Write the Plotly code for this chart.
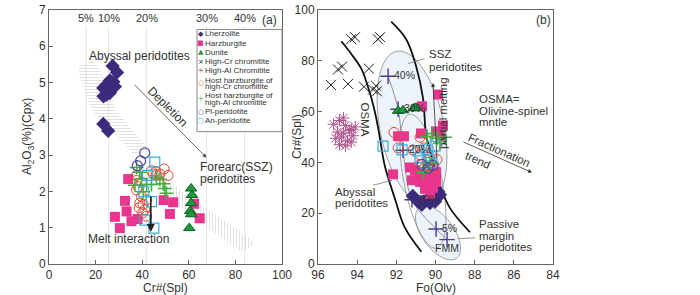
import math
import plotly.graph_objects as go

# ---------------- Panel (a): Cr#(Spl) vs Al2O3 (Cpx) ----------------
lhz_cr = [27.3, 29.2, 26.1, 27.6, 24.7, 23.3, 26.1, 24.7, 26.1, 23.4, 28.3, 23.3, 25.4]
lhz_al = [5.46, 5.28, 5.06, 5.02, 4.93, 4.85, 4.85, 4.67, 4.71, 4.62, 4.89, 3.86, 3.67]
hzb_cr = [28.3, 30.4, 32.6, 34.0, 33.3, 35.4, 38.0, 49.2, 53.3, 51.9, 64.7, 62.3]
hzb_al = [1.30, 0.99, 1.74, 2.34, 1.45, 1.18, 1.24, 1.76, 1.70, 1.38, 1.26, 1.66]
dun_cr = [61.0, 61.4, 61.0, 60.6, 61.0, 60.2]
dun_al = [2.08, 1.90, 1.68, 1.46, 1.37, 0.99]
pl_cr = [41.1, 39.3, 37.9]
pl_al = [3.06, 2.84, 2.71]
an_cr = [45.4, 42.3, 40.7, 44.0, 41.1, 45.0]
an_al = [2.81, 2.44, 1.99, 1.72, 1.21, 0.99]
hcr_cr = [45.9, 47.6, 49.4, 51.1, 44.0, 46.1, 44.7, 37.6, 37.6, 38.3, 39.7, 39.0, 40.4,
          38.7, 41.1, 40.2, 41.9, 39.7, 41.9, 37.6]
hcr_al = [2.55, 2.48, 2.62, 2.44, 2.57, 2.44, 2.48, 2.30, 2.04, 2.13, 2.26, 1.68, 1.64,
          1.55, 1.50, 1.41, 1.32, 1.86, 1.77, 2.44]
hal_cr = [37.6, 39.0, 36.9, 41.9, 44.0, 40.4, 47.6, 49.0, 49.7, 46.1, 39.7, 50.4]
hal_al = [2.66, 2.53, 2.17, 2.19, 2.19, 1.99, 2.33, 2.21, 2.08, 2.39, 2.35, 1.95]

melt_pct_labels = ["5%", "10%", "20%", "30%", "40%"]
melt_pct_cr = [16.0, 25.6, 41.9, 67.6, 84.0]

abyssal_field_cr = [12.5, 19.5, 24.0, 29.0, 44.0, 36.0, 28.0, 18.5, 13.5, 12.5]
abyssal_field_al = [5.45, 5.60, 5.10, 4.20, 3.10, 3.05, 3.60, 4.20, 5.10, 5.45]
forearc_field_cr = [51.1, 86.9, 87.6, 82.6, 56.1, 51.1, 51.1]
forearc_field_al = [2.28, 0.66, 0.52, 0.34, 1.55, 1.90, 2.28]

# ---------------- Panel (b): Fo(Olv) vs Cr#(Spl) ----------------
b_hcrc_fo = [94.31, 94.11, 92.94, 92.83, 95.34, 94.98, 94.77, 94.47, 93.40, 93.65, 93.19, 92.99, 93.04]
b_hcrc_cr = [88.5, 89.3, 88.5, 89.3, 70.5, 76.6, 77.7, 70.9, 76.9, 69.8, 68.7, 68.0, 70.2]
b_halc_fo = [95.2, 94.9, 94.6, 94.3, 95.0, 94.7, 94.4, 94.1, 95.1, 94.8, 94.5, 94.2, 94.9, 94.6, 94.3, 94.7]
b_halc_cr = [55.0, 56.5, 54.5, 53.0, 52.0, 51.5, 52.5, 54.0, 49.5, 50.0, 48.5, 50.5, 47.0, 46.5, 48.0, 57.5]
b_dun_fo = [91.91, 91.66, 91.10, 91.00]
b_dun_cr = [60.3, 60.5, 61.3, 61.5]
b_hzb_fo = [89.87, 90.69, 89.62, 89.72, 91.91, 91.61, 90.74, 89.97, 92.17, 91.30, 91.05, 90.79,
            90.38, 89.97, 91.20, 90.79, 90.38, 89.97, 90.54, 90.13, 90.28]
b_hzb_cr = [66.7, 62.1, 54.5, 50.6, 50.3, 50.3, 51.4, 52.2, 35.3, 38.0, 36.9, 35.3,
            35.3, 36.1, 33.0, 32.3, 32.3, 32.3, 29.6, 30.0, 27.7]
b_lhz_fo = [91.16, 90.62, 90.28, 89.94, 90.11, 89.86, 90.45, 90.70, 90.89, 90.02, 89.77]
b_lhz_cr = [26.8, 24.6, 24.0, 25.9, 27.8, 28.4, 25.3, 23.3, 24.6, 24.6, 27.3]
b_hcr_fo = [92.12, 91.91, 91.15, 90.79, 90.79, 90.43, 90.28, 90.64, 90.28, 90.79, 89.92, 90.13, 90.79, 90.59]
b_hcr_cr = [51.8, 45.7, 44.9, 43.0, 39.2, 40.7, 41.8, 37.2, 38.0, 38.0, 41.1, 37.2, 49.9, 45.7]
b_hal_fo = [90.18, 89.92, 89.51, 89.77, 90.43, 90.54, 90.28, 90.64]
b_hal_cr = [51.4, 49.5, 49.9, 47.6, 50.2, 38.0, 39.9, 36.1]
b_an_fo = [92.68, 91.71, 90.89, 90.43, 90.79, 90.23, 90.38, 90.02]
b_an_cr = [46.4, 44.9, 44.5, 44.9, 41.8, 39.9, 42.6, 46.4]
b_pl_fo = [90.69, 90.38, 90.13]
b_pl_cr = [39.2, 37.6, 38.8]

melt_fo = [89.41, 89.97, 91.20, 91.66, 91.91, 92.42]
melt_cr = [9.6, 13.8, 25.3, 44.8, 60.9, 73.9]
melt_labels = ["FMM", "5%", "10%", "20%", "30%", "40%"]

osma_left_fo = [94.81, 94.31, 93.79, 93.45, 93.19, 92.99, 92.85, 92.59, 92.08, 91.57, 90.72]
osma_left_cr = [87.7, 82.8, 76.9, 69.8, 62.9, 56.0, 50.1, 38.7, 25.9, 14.4, 4.8]
osma_right_fo = [92.26, 91.49, 90.98, 90.64, 90.47, 90.28, 90.11, 89.77, 89.26, 88.24]
osma_right_cr = [95.4, 88.4, 77.6, 65.4, 50.1, 45.3, 39.9, 31.0, 22.0, 12.5]

# ---------------- styling ----------------
FONT = "Liberation Sans, Arial, sans-serif"
TXT = "#333333"
C_LHZ = "#3d2a7d"
C_HZB = "#e8368f"
C_DUN = "#1f9a3c"
C_DUN_EDGE = "#0b5b22"
C_HCRC = "#222222"
C_HALC = "#b0568f"
C_HCR = "#e9452f"
C_HAL = "#3fae3f"
C_PL = "#5346a6"
C_AN = "#3aaee0"
C_MELT = "#4b3a8c"

W, H = 700, 295
ML, MR, MT, MB = 49, 147, 3, 31
PW = W - ML - MR
PH = H - MT - MB


def px_x(px):
    return (px - ML) / PW


def px_y(py):
    return (H - MB - py) / PH


# panel b pixel -> data (only for drawing the field outlines)
def b_fo(px):
    return 96 - (px - 318) * 12 / 235


def b_cr(py):
    return (264 - py) * 100 / 261


def ellipse_path(cx, cy, a, b, phi_deg, n=72):
    phi = math.radians(phi_deg)
    ux, uy = math.sin(phi), math.cos(phi)
    vx, vy = math.cos(phi), -math.sin(phi)
    pts = []
    for i in range(n):
        t = 2 * math.pi * i / n
        px = cx + a * math.cos(t) * ux + b * math.sin(t) * vx
        py = cy + a * math.cos(t) * uy + b * math.sin(t) * vy
        pts.append("%.4f,%.4f" % (b_fo(px), b_cr(py)))
    return "M " + " L ".join(pts) + " Z"


fig = go.Figure()

# ---- panel (a) fields ----
fig.add_trace(go.Scatter(
    x=abyssal_field_cr, y=abyssal_field_al, mode="lines", fill="toself",
    line=dict(width=0, color="rgba(0,0,0,0)"), fillcolor="rgba(0,0,0,0)",
    fillpattern=dict(shape="-", fgcolor="#c4c4c4", bgcolor="rgba(255,255,255,0)", size=3, solidity=0.35),
    hoverinfo="skip", showlegend=False, xaxis="x", yaxis="y"))
fig.add_trace(go.Scatter(
    x=forearc_field_cr, y=forearc_field_al, mode="lines", fill="toself",
    line=dict(width=0, color="rgba(0,0,0,0)"), fillcolor="rgba(0,0,0,0)",
    fillpattern=dict(shape="|", fgcolor="#c4c4c4", bgcolor="rgba(255,255,255,0)", size=3, solidity=0.35),
    hoverinfo="skip", showlegend=False, xaxis="x", yaxis="y"))


def add_pts(x, y, name, marker, xa, ya):
    fig.add_trace(go.Scatter(x=x, y=y, mode="markers", name=name, marker=marker,
                             showlegend=False, xaxis=xa, yaxis=ya))


M_LHZ = dict(symbol="diamond", size=11, color=C_LHZ, line=dict(width=0))
M_HZB = dict(symbol="square", size=10, color=C_HZB, line=dict(width=0))
M_DUN = dict(symbol="triangle-up", size=10, color=C_DUN, line=dict(width=1, color=C_DUN_EDGE))
M_HCRC = dict(symbol="x-thin-open", size=10, color=C_HCRC, line=dict(width=1, color=C_HCRC))
M_HALC = dict(symbol="asterisk-open", size=10, color=C_HALC, line=dict(width=1, color=C_HALC))
M_HCR = dict(symbol="circle-open", size=10, color=C_HCR, line=dict(width=1, color=C_HCR))
M_HAL = dict(symbol="cross-thin-open", size=10, color=C_HAL, line=dict(width=1.5, color=C_HAL))
M_PL = dict(symbol="circle-open", size=10, color=C_PL, line=dict(width=1.2, color=C_PL))
M_AN = dict(symbol="square-open", size=10, color=C_AN, line=dict(width=1.2, color=C_AN))

add_pts(lhz_cr, lhz_al, "Lherzolite", M_LHZ, "x", "y")
add_pts(hzb_cr, hzb_al, "Harzburgite", M_HZB, "x", "y")
add_pts(hcr_cr, hcr_al, "Host harzburgite of high-Cr chromitite", M_HCR, "x", "y")
add_pts(hal_cr, hal_al, "Host harzburgite of high-Al chromitite", M_HAL, "x", "y")
add_pts(pl_cr, pl_al, "Pl-peridotite", M_PL, "x", "y")
add_pts(an_cr, an_al, "An-peridotite", M_AN, "x", "y")
add_pts(dun_cr, dun_al, "Dunite", M_DUN, "x", "y")

# ---- panel (b) reference curves ----
for fx, cy in ((osma_left_fo, osma_left_cr), (osma_right_fo, osma_right_cr)):
    fig.add_trace(go.Scatter(x=fx, y=cy, mode="lines", line=dict(color="#111", width=1.8, shape="spline"),
                             hoverinfo="skip", showlegend=False, xaxis="x2", yaxis="y2"))
fig.add_trace(go.Scatter(x=melt_fo, y=melt_cr, mode="lines+markers",
                         line=dict(color="#777", width=0.8, shape="spline"),
                         marker=dict(symbol="cross-thin-open", size=11, color=C_MELT,
                                     line=dict(width=1.4, color=C_MELT)),
                         showlegend=False, xaxis="x2", yaxis="y2", name="melting trend"))

add_pts(b_hcrc_fo, b_hcrc_cr, "High-Cr chromitite", M_HCRC, "x2", "y2")
add_pts(b_halc_fo, b_halc_cr, "High-Al Chromitite", M_HALC, "x2", "y2")
add_pts(b_lhz_fo, b_lhz_cr, "Lherzolite", M_LHZ, "x2", "y2")
add_pts(b_hzb_fo, b_hzb_cr, "Harzburgite", M_HZB, "x2", "y2")
add_pts(b_dun_fo, b_dun_cr, "Dunite", M_DUN, "x2", "y2")
add_pts(b_hcr_fo, b_hcr_cr, "Host harzburgite of high-Cr chromitite", M_HCR, "x2", "y2")
add_pts(b_an_fo, b_an_cr, "An-peridotite", M_AN, "x2", "y2")
add_pts(b_hal_fo, b_hal_cr, "Host harzburgite of high-Al chromitite", M_HAL, "x2", "y2")
add_pts(b_pl_fo, b_pl_cr, "Pl-peridotite", M_PL, "x2", "y2")

# ---- shapes ----
shapes = []
for c in melt_pct_cr:
    shapes.append(dict(type="line", xref="x", yref="y", x0=c, x1=c, y0=0, y1=6.55,
                       line=dict(color="#e6e6e6", width=1), layer="below"))
shapes.append(dict(type="path", xref="x2", yref="y2", path=ellipse_path(412, 124, 80, 32, 11),
                   fillcolor="#edf3fa", line=dict(color="#888", width=0.8), layer="below"))
shapes.append(dict(type="path", xref="x2", yref="y2", path=ellipse_path(438, 232, 32, 16, 35),
                   fillcolor="#edf3fa", line=dict(color="#888", width=0.8), layer="below"))
shapes.append(dict(type="path", xref="x2", yref="y2", path=ellipse_path(423, 179, 70, 19, 11),
                   fillcolor="rgba(0,0,0,0)", line=dict(color="#888", width=0.8), layer="below"))
# leader lines
for (x0, y0, x1, y1) in ((91.40, 78.9, 90.58, 80.8), (93.19, 31.0, 92.22, 32.95), (88.85, 10.0, 87.98, 10.3)):
    shapes.append(dict(type="line", xref="x2", yref="y2", x0=x0, y0=y0, x1=x1, y1=y1,
                       line=dict(color="#777", width=0.8)))
# legend box
shapes.append(dict(type="rect", xref="paper", yref="paper", x0=px_x(197), x1=px_x(282),
                   y0=px_y(128), y1=px_y(23), fillcolor="white", line=dict(color="#888", width=1), layer="above"))

ann = []


def txt(x, y, s, xref, yref, size, angle=0, xanchor="center", color=TXT, yshift=0, family=FONT):
    ann.append(dict(x=x, y=y, xref=xref, yref=yref, text=s, showarrow=False, textangle=angle,
                    xanchor=xanchor, yanchor="middle", yshift=yshift,
                    font=dict(family=family, size=size, color=color)))


def arrow(x, y, ax, ay, xref, yref, width, color):
    ann.append(dict(x=x, y=y, ax=ax, ay=ay, xref=xref, yref=yref, axref=xref, ayref=yref,
                    text="", showarrow=True, arrowhead=2, arrowsize=1, arrowwidth=width, arrowcolor=color))


# panel (a) texts
txt(39, 5.74, "Abyssal peridotites", "x", "y", 12)
txt(51, 4.32, "Depletion", "x", "y", 12, angle=45)
txt(63.9, 2.67, "Forearc(SSZ)", "x", "y", 12, xanchor="left")
txt(63.9, 2.35, "peridotites", "x", "y", 12, xanchor="left")
txt(34.3, 0.68, "Melt interaction", "x", "y", 12)
for lbl, c in zip(melt_pct_labels, melt_pct_cr):
    txt(c, 6.78, lbl, "x", "y", 11)
txt(94.7, 6.73, "(a)", "x", "y", 12)
arrow(67.6, 2.93, 36.1, 4.98, "x", "y", 0.8, "#444")
arrow(43.7, 0.88, 43.7, 1.9, "x", "y", 1.6, "#222")

# panel (b) texts
txt(93.6, 56.9, "OSMA", "x2", "y2", 11.5, angle=90)
txt(90.43, 82.8, "SSZ", "x2", "y2", 11.5, xanchor="left")
txt(90.43, 77.4, "peridotites", "x2", "y2", 11.5, xanchor="left")
txt(87.88, 64.8, "OSMA=", "x2", "y2", 11.5, xanchor="left")
txt(87.88, 60.3, "Olivine-spinel", "x2", "y2", 11.5, xanchor="left")
txt(87.88, 55.8, "mntle", "x2", "y2", 11.5, xanchor="left")
txt(89.62, 59.4, "partial melting", "x2", "y2", 11.5, angle=-90)
txt(86.76, 44.9, "Fractionation", "x2", "y2", 11.5, angle=24)
txt(87.85, 43.5, "trend", "x2", "y2", 11.5, angle=24, yshift=-6)
txt(95.23, 28.4, "Abyssal", "x2", "y2", 11.5, xanchor="left")
txt(95.23, 23.9, "peridotites", "x2", "y2", 11.5, xanchor="left")
txt(87.88, 15.6, "Passive", "x2", "y2", 11.5, xanchor="left")
txt(87.88, 11.1, "margin", "x2", "y2", 11.5, xanchor="left")
txt(87.88, 6.6, "peridotites", "x2", "y2", 11.5, xanchor="left")
for lbl, f, c in zip(melt_labels, melt_fo, melt_cr):
    if lbl == "FMM":
        txt(f, c - 3.2, lbl, "x2", "y2", 10.5)
    else:
        txt(f - 0.22, c + 0.4, lbl, "x2", "y2", 10.5, xanchor="left")
txt(84.49, 96.1, "(b)", "x2", "y2", 12)
arrow(90.13, 71.3, 89.92, 41.1, "x2", "y2", 0.8, "#333")
arrow(85.07, 36.0, 88.65, 48.3, "x2", "y2", 0.8, "#333")

# axis titles
txt(px_x(165.5), px_y(289), "Cr#(Spl)", "paper", "paper", 12)
txt(px_x(436), px_y(289), "Fo(Olv)", "paper", "paper", 12)
txt(px_x(28), 0.5, "Al<sub>2</sub>O<sub>3</sub>(%)(Cpx)", "paper", "paper", 12, angle=-90)
txt(px_x(297), 0.5, "Cr#(Spl)", "paper", "paper", 12, angle=-90)

# manual compact legend
legend_items = [
    ("Lherzolite", "◆", C_LHZ),
    ("Harzburgite", "■", C_HZB),
    ("Dunite", "▲", C_DUN),
    ("High-Cr chromitite", "×", C_HCRC),
    ("High-Al Chromitite", "✳", C_HALC),
    ("Host harzburgite of<br>high-Cr chromitite", "○", C_HCR),
    ("Host harzburgite of<br>high-Al chromitite", "+", C_HAL),
    ("Pl-peridotite", "○", C_PL),
    ("An-peridotite", "□", C_AN),
]
L_LINE, L_GAP = 6.8, 2.7
cur = 22.7
for name, glyph, col in legend_items:
    lines = name.split("<br>")
    h = len(lines) * L_LINE + L_GAP
    center = cur + h / 2
    first = center - (len(lines) - 1) * L_LINE / 2
    for k, ln in enumerate(lines):
        txt(px_x(202.5), px_y(first + k * L_LINE), ln, "paper", "paper", 8, xanchor="left")
    txt(px_x(200.5), px_y(center), glyph, "paper", "paper", 7, color=col, family="DejaVu Sans")
    cur += h

axis_common = dict(showline=True, linecolor="#666", linewidth=1, mirror=True, ticks="inside",
                   ticklen=4, tickcolor="#666", showgrid=False, zeroline=False,
                   ticklabeloverflow="allow",
                   tickfont=dict(family=FONT, size=12, color=TXT))

fig.update_layout(
    width=W, height=H,
    margin=dict(l=ML, r=MR, t=MT, b=MB),
    paper_bgcolor="white", plot_bgcolor="white",
    showlegend=False,
    font=dict(family=FONT, color=TXT),
    xaxis=dict(domain=[0, (282 - ML) / PW], range=[0, 100], tickvals=[0, 20, 40, 60, 80, 100], **axis_common),
    yaxis=dict(range=[0, 7], tickvals=[0, 1, 2, 3, 4, 5, 6, 7], anchor="x", **axis_common),
    xaxis2=dict(domain=[(318 - ML) / PW, 1], range=[96, 84], tickvals=[96, 94, 92, 90, 88, 86, 84],
                anchor="y2", **axis_common),
    yaxis2=dict(range=[0, 100], tickvals=[0, 20, 40, 60, 80, 100], anchor="x2", **axis_common),
    shapes=shapes,
    annotations=ann,
)

fig.write_html("out.html", config={"displayModeBar": False},
               post_script="document.body.style.margin='0px';document.body.style.overflow='hidden';")
